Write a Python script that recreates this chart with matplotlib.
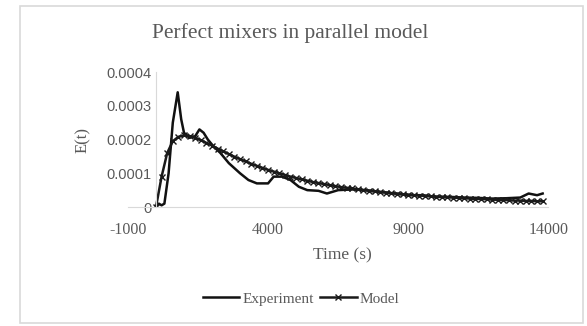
import matplotlib
matplotlib.use("Agg")
import matplotlib.pyplot as plt
from matplotlib.patches import Rectangle

# experiment
exp_time = [0, 100, 200, 300, 450, 600, 775, 900, 1000, 1200, 1400, 1550, 1700,
            1850, 2050, 2300, 2600, 3000, 3300, 3600, 4000, 4200, 4500, 4800,
            5100, 5400, 5800, 6100, 6500, 7000, 7500, 8000, 8500, 9000, 9500,
            10000, 10500, 11000, 11500, 12000, 12500, 13000, 13300, 13600, 13800]
exp_e = [0, 0.00001, 0.000005, 0.00001, 0.0001, 0.00025, 0.00034, 0.00026,
         0.00022, 0.000205, 0.00021, 0.00023, 0.00022, 0.0002, 0.00018, 0.00016,
         0.00013, 0.0001, 0.00008, 0.00007, 0.00007, 0.00009, 0.00009, 0.00008,
         0.00006, 0.00005, 0.000048, 0.00004, 0.00005, 0.000052, 0.00005,
         0.000045, 0.00004, 0.000035, 0.000035, 0.00003, 0.00003, 0.000028,
         0.000027, 0.000025, 0.000026, 0.000028, 0.00004, 0.000035, 0.00004]

# model, one point every 200 s
model_time = list(range(0, 14000, 200))
model_e = [0, 0.00009, 0.00016, 0.000195, 0.000208, 0.000212, 0.000210, 0.000205,
           0.000198, 0.000190, 0.000182, 0.000173, 0.000165, 0.000157, 0.000149,
           0.000142, 0.000135, 0.000128, 0.000122, 0.000116, 0.000110, 0.000105,
           0.000100, 0.000095, 0.000090, 0.000086, 0.000082, 0.000078, 0.000074,
           0.000071, 0.000068, 0.000065, 0.000062, 0.000059, 0.000057, 0.000055,
           0.000052, 0.000050, 0.000048, 0.000046, 0.000044, 0.000043, 0.000041,
           0.000040, 0.000038, 0.000037, 0.000035, 0.000034, 0.000033, 0.000032,
           0.000031, 0.000030, 0.000029, 0.000028, 0.000027, 0.000026, 0.000025,
           0.000024, 0.000024, 0.000023, 0.000022, 0.000021, 0.000021, 0.000020,
           0.000019, 0.000019, 0.000018, 0.000018, 0.000017, 0.000017]

x_ticks = [-1000, 4000, 9000, 14000]
y_ticks = [0, 0.0001, 0.0002, 0.0003, 0.0004]
y_labels = ["0", "0.0001", "0.0002", "0.0003", "0.0004"]

grey = "#595959"
plt.rcParams['font.family'] = ['Liberation Serif', 'DejaVu Serif']

fig = plt.figure(figsize=(5.87, 3.26), dpi=100)
fig.patches.append(Rectangle((20 / 587, 3 / 326), 563 / 587, 317 / 326,
                             transform=fig.transFigure, fill=False,
                             edgecolor="#d9d9d9", linewidth=1.2))

ax = fig.add_axes([0.218, 0.365, 0.716, 0.414])
ax.plot(exp_time, exp_e, color="#111111", linewidth=1.8, label="Experiment")
ax.plot(model_time, model_e, color="#1a1a1a", linewidth=1.8, marker="x",
        markersize=5, markeredgewidth=1.0, label="Model")

ax.set_xlim(-1000, 14000)
ax.set_ylim(0, 0.0004)
ax.spines['left'].set_position(('data', 0))
ax.spines['bottom'].set_position(('data', 0))
ax.spines['top'].set_visible(False)
ax.spines['right'].set_visible(False)
ax.spines['left'].set_color("#d9d9d9")
ax.spines['bottom'].set_color("#d9d9d9")
ax.set_xticks(x_ticks)
ax.set_xticklabels([str(v) for v in x_ticks], fontsize=11.5)
ax.set_yticks(y_ticks)
ax.set_yticklabels(y_labels, family=['Liberation Sans', 'DejaVu Sans'], fontsize=10.5)
ax.tick_params(length=0, labelcolor=grey)
ax.tick_params(axis='x', pad=11)
ax.tick_params(axis='y', pad=3)

fig.text(0.494, 0.9, "Perfect mixers in parallel model", ha="center", va="center",
         fontsize=15.5, color=grey)
fig.text(0.141, 0.57, "E(t)", rotation=90, ha="center", va="center",
         fontsize=12, color=grey)
fig.text(0.584, 0.218, "Time (s)", ha="center", va="center",
         fontsize=12.5, color=grey)

leg = fig.legend(loc="center", bbox_to_anchor=(0.513, 0.083), ncol=2, frameon=False,
                 fontsize=11, handlelength=2.4, columnspacing=0.4, handletextpad=0.2)
for t in leg.get_texts():
    t.set_color(grey)

plt.savefig("out.png", dpi=100)
plt.clf()
plt.close()
